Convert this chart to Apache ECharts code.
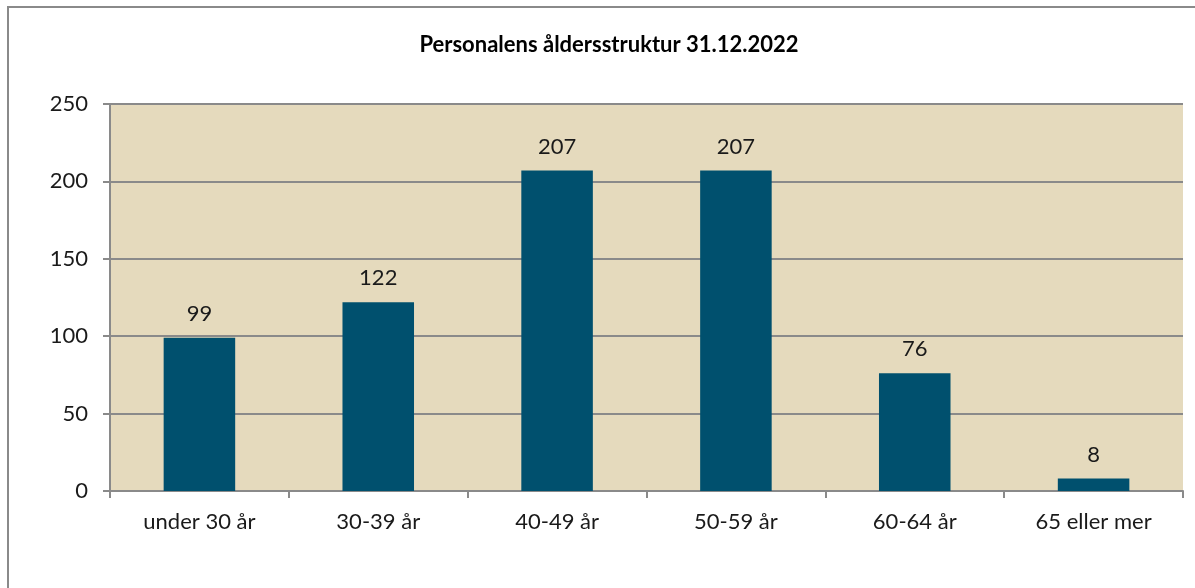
<!DOCTYPE html>
<html>
<head>
<meta charset="utf-8">
<script src="https://cdn.jsdelivr.net/npm/echarts@6/dist/echarts.min.js"></script>
<style>
  html, body { margin: 0; padding: 0; background: #ffffff; }
  #chart { width: 1195px; height: 588px; }
</style>
</head>
<body>
<div id="chart"></div>
<script>
// Age groups and headcount per group
const categories = ['under 30 år', '30-39 år', '40-49 år', '50-59 år', '60-64 år', '65 eller mer'];
const headcount = [99, 122, 207, 207, 76, 8];
const yTicks = { min: 0, max: 250, interval: 50 };

const font = 'Lato, "Open Sans", "Noto Sans", sans-serif';
const chart = echarts.init(document.getElementById('chart'));

chart.setOption({
  animation: false,
  title: {
    text: 'Personalens åldersstruktur 31.12.2022',
    left: 604,
    textAlign: 'center',
    top: 29,
    textStyle: { fontFamily: font, fontSize: 22, fontWeight: 'bold', color: '#000' }
  },
  graphic: [{
    type: 'rect',
    silent: true,
    shape: { x: 8, y: 7, width: 1300, height: 700 },
    style: { fill: 'none', stroke: '#8a8a8a', lineWidth: 2 }
  }],
  grid: { left: 110, right: 12, top: 104, bottom: 97, backgroundColor: '#e5dabd', show: true, borderWidth: 0 },
  xAxis: {
    type: 'category',
    data: categories,
    axisLine: { lineStyle: { color: '#8a8a8a', width: 2 } },
    axisTick: { show: true, length: 7, alignWithLabel: false, lineStyle: { color: '#8a8a8a', width: 2 } },
    axisLabel: { margin: 20, fontFamily: font, fontSize: 22, color: '#1a1a1a' }
  },
  yAxis: {
    type: 'value',
    min: yTicks.min,
    max: yTicks.max,
    interval: yTicks.interval,
    axisLine: { show: true, lineStyle: { color: '#8a8a8a', width: 2 } },
    axisTick: { show: true, length: 7, lineStyle: { color: '#8a8a8a', width: 2 } },
    splitLine: { show: true, lineStyle: { color: '#8a8a8a', width: 2 } },
    axisLabel: { margin: 22, fontFamily: font, fontSize: 22, color: '#1a1a1a' }
  },
  series: [{
    type: 'bar',
    data: headcount,
    barWidth: '40%',
    itemStyle: { color: '#00506e' },
    label: {
      show: true,
      position: 'top',
      distance: 13,
      fontFamily: font,
      fontSize: 22,
      color: '#1a1a1a'
    }
  }]
});
</script>
</body>
</html>
